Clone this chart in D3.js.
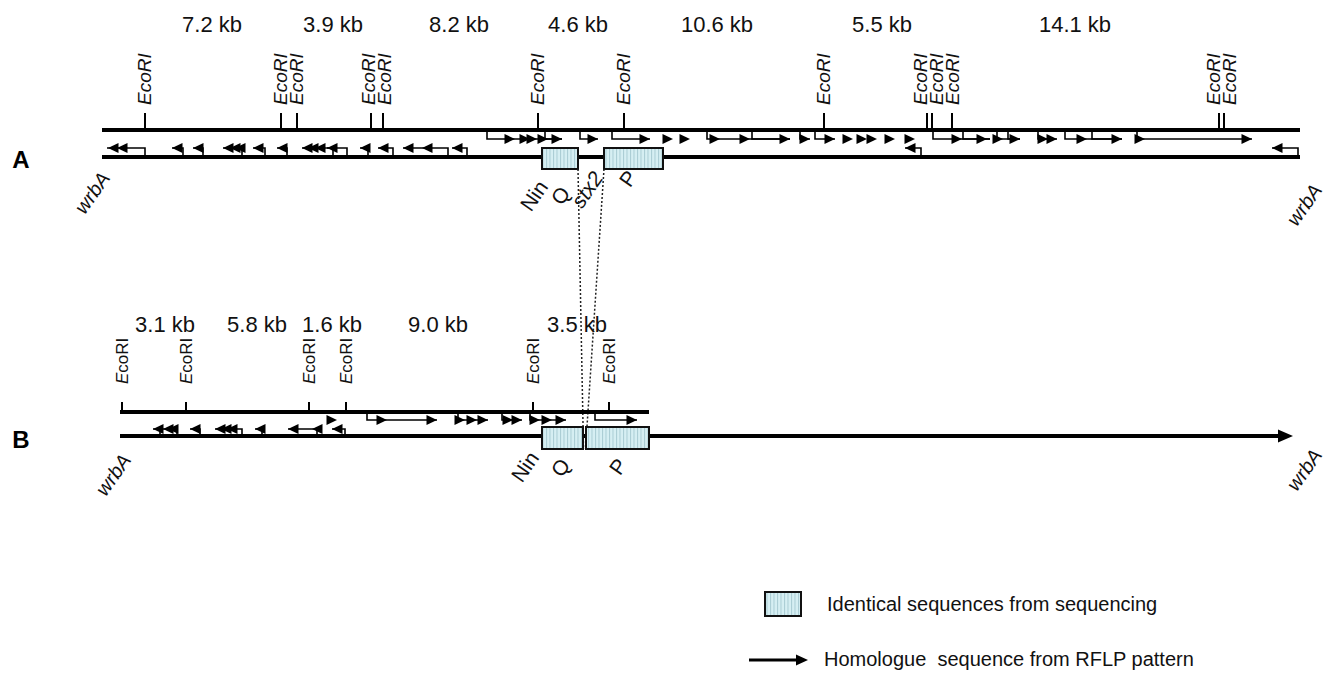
<!DOCTYPE html>
<html>
<head>
<meta charset="utf-8">
<script src="https://cdn.jsdelivr.net/npm/d3@7"></script>
<style>
body { margin: 0; background: #fff; }
svg { font-family: "Liberation Sans", Arial, sans-serif; }
</style>
</head>
<body>
<svg id="chart" width="1331" height="674"></svg>
<script>
// ---- data: every position is in kb along the prophage map ----

// panel A (intact stx2 prophage)
var aStrand = [0, 59.9];
var aSites = [2.15, 8.95, 9.75, 13.45, 14.05, 21.8, 26.1, 36.1, 41.25, 41.5, 42.5, 55.85, 56.1];
var aFragLabels = ["7.2 kb", "3.9 kb", "8.2 kb", "4.6 kb", "10.6 kb", "5.5 kb", "14.1 kb"];
var aFragPos = [5.5, 11.55, 17.85, 23.8, 30.75, 39.0, 48.65];
// bent arrows [start, end]
var aFwd = [[19.25, 23.0], [22.15, 23.0], [23.9, 24.8], [25.5, 27.4], [30.25, 34.4], [32.5, 34.4],
    [34.9, 35.4], [35.65, 36.65], [41.55, 44.4], [43.05, 44.4], [44.75, 45.9], [45.3, 45.9],
    [46.8, 47.75], [48.15, 51.0], [49.5, 51.0], [51.75, 57.5]];
var aFwdHeads = [20.65, 21.4, 21.75, 22.3, 23.0, 24.8, 27.4, 28.55, 29.4, 30.9, 32.4, 34.4, 35.4,
    36.65, 37.55, 38.25, 38.75, 39.65, 40.65, 43.0, 44.25, 45.05, 45.9, 47.3, 47.75, 49.25, 51.0,
    52.15, 57.5];
var aRev = [[2.15, 0.25], [4.05, 3.5], [5.05, 4.55], [7.0, 6.05], [8.15, 7.55], [9.25, 8.75],
    [11.55, 10.0], [12.25, 11.25], [13.3, 12.9], [14.55, 13.8], [17.3, 15.05], [18.25, 17.5],
    [40.95, 40.15], [59.8, 58.5]];
var aRevHeads = [0.3, 0.75, 3.5, 4.55, 6.05, 6.4, 6.65, 7.55, 8.75, 10.0, 10.3, 10.65, 11.25, 12.9,
    13.8, 15.05, 16.0, 17.5, 40.15, 58.5];
var aBoxes = [[22.0, 23.8], [25.1, 28.05]];
var aGeneLabels = ["Nin", "Q", "stx2", "P"];
var aGenePos = [22.35, 23.45, 25.1, 26.8];

// panel B (truncated prophage)
var bTopStrand = [0.9, 27.35];
var bBottomStrand = [0.9, 59.55];
var bSites = [1.0, 4.2, 10.35, 12.2, 21.55, 25.35];
var bFragLabels = ["3.1 kb", "5.8 kb", "1.6 kb", "9.0 kb", "3.5 kb"];
var bFragPos = [3.15, 7.75, 11.5, 16.8, 23.75];
var bFwd = [[13.25, 16.75], [17.8, 19.3], [20.0, 21.0], [21.4, 23.2], [24.65, 26.75]];
var bFwdHeads = [11.75, 14.25, 16.75, 18.15, 18.75, 19.3, 20.55, 21.0, 21.9, 22.5, 23.2, 26.75];
var bRev = [[2.9, 2.55], [3.75, 3.05], [4.9, 4.4], [7.0, 5.65], [8.0, 7.65], [10.75, 9.3], [12.15, 11.5]];
var bRevHeads = [2.55, 3.05, 3.3, 4.4, 5.65, 5.95, 6.25, 7.65, 9.3, 10.5, 11.5];
var bBoxes = [[22.0, 24.05], [24.2, 27.35]];
var bGeneLabels = ["Nin", "Q", "P"];
var bGenePos = [21.9, 23.45, 26.3];

var legendLabels = ["Identical sequences from sequencing", "Homologue  sequence from RFLP pattern"];

// ---- drawing ----
var svg = d3.select("#chart");
var x = d3.scaleLinear().domain([0, 59.9]).range([102, 1300]);

// striped fill of the sequenced boxes
var defs = svg.append("defs");
var pat = defs.append("pattern").attr("id", "stripes")
    .attr("patternUnits", "userSpaceOnUse").attr("width", 3.5).attr("height", 10);
pat.append("rect").attr("width", 3.5).attr("height", 10).attr("fill", "#d6eff3");
pat.append("line").attr("x1", 0.5).attr("x2", 0.5).attr("y1", 0).attr("y2", 10)
    .attr("stroke", "#a9ccd3").attr("stroke-width", 1);

// spread labels of close restriction sites so they do not overlap
function spread(xs, gap) {
    var p = xs.slice();
    for (var it = 0; it < 60; it++) {
        for (var i = 1; i < p.length; i++) {
            var d = p[i] - p[i - 1];
            if (d < gap) {
                p[i - 1] -= (gap - d) / 2;
                p[i] += (gap - d) / 2;
            }
        }
    }
    return p;
}

function headPath(tip, y, dir, len, half) {
    return "M" + tip + "," + y + "L" + (tip - dir * len) + "," + (y - half) +
        "L" + (tip - dir * len) + "," + (y + half) + "Z";
}

var panels = [{
    letter: "A", top: 130, bottom: 157, fwdY: 139, revY: 148, tick: 17, labelY: 105, labelSize: 19,
    fragY: 32, letterY: 168, boxTop: 148, boxH: 21, italicAll: true,
    topStrand: aStrand, bottomStrand: aStrand, arrowEnd: false,
    sites: aSites, fragText: aFragLabels, fragPos: aFragPos,
    fwd: aFwd, fwdHeads: aFwdHeads, rev: aRev, revHeads: aRevHeads,
    boxes: aBoxes, geneText: aGeneLabels, genePos: aGenePos, geneDy: [30, 36, 21, 20],
    wrb: [[111, 178], [1323, 190]]
}, {
    letter: "B", top: 412, bottom: 436, fwdY: 420, revY: 429, tick: 10, labelY: 384, labelSize: 17,
    fragY: 332, letterY: 448, boxTop: 427, boxH: 22, italicAll: false,
    topStrand: bTopStrand, bottomStrand: bBottomStrand, arrowEnd: true,
    sites: bSites, fragText: bFragLabels, fragPos: bFragPos,
    fwd: bFwd, fwdHeads: bFwdHeads, rev: bRev, revHeads: bRevHeads,
    boxes: bBoxes, geneText: bGeneLabels, genePos: bGenePos, geneDy: [22, 29, 29],
    wrb: [[132, 460], [1323, 455]]
}];

panels.forEach(function (p) {
    var g = svg.append("g").attr("class", "panel" + p.letter);

    g.append("text").attr("x", 21).attr("y", p.letterY).attr("text-anchor", "middle")
        .attr("font-size", 24).attr("font-weight", "bold").text(p.letter);

    // fragment sizes
    g.selectAll(".frag").data(p.fragText).enter().append("text")
        .attr("x", function (d, i) { return x(p.fragPos[i]); })
        .attr("y", p.fragY).attr("text-anchor", "middle").attr("font-size", 22)
        .attr("fill", "#111").text(function (d) { return d; });

    // strands
    g.append("line").attr("x1", x(p.topStrand[0])).attr("x2", x(p.topStrand[1]))
        .attr("y1", p.top).attr("y2", p.top).attr("stroke", "#000").attr("stroke-width", 4);
    var endX = x(p.bottomStrand[1]);
    g.append("line").attr("x1", x(p.bottomStrand[0])).attr("x2", p.arrowEnd ? endX - 12 : endX)
        .attr("y1", p.bottom).attr("y2", p.bottom).attr("stroke", "#000").attr("stroke-width", 4);
    if (p.arrowEnd) {
        g.append("path").attr("d", headPath(endX, p.bottom, 1, 15, 6.5)).attr("fill", "#000");
    }

    // EcoRI sites
    g.selectAll(".site").data(p.sites).enter().append("line")
        .attr("x1", function (d) { return x(d); }).attr("x2", function (d) { return x(d); })
        .attr("y1", p.top - p.tick).attr("y2", p.top).attr("stroke", "#000").attr("stroke-width", 2);
    var lx = spread(p.sites.map(function (d) { return x(d) + 6; }), 16);
    var lab = g.selectAll(".siteLabel").data(p.sites).enter().append("text")
        .attr("transform", function (d, i) { return "translate(" + lx[i] + "," + p.labelY + ") rotate(-90)"; })
        .attr("font-size", p.labelSize).attr("fill", "#111");
    if (p.italicAll) {
        lab.attr("font-style", "italic").text("EcoRI");
    } else {
        lab.append("tspan").attr("font-style", "italic").text("E");
        lab.append("tspan").text("coRI");
    }

    // transcripts (bent arrows)
    g.selectAll(".fwd").data(p.fwd).enter().append("path")
        .attr("d", function (d) { return "M" + x(d[0]) + "," + (p.top + 2) + "V" + p.fwdY + "H" + x(d[1]); })
        .attr("fill", "none").attr("stroke", "#000").attr("stroke-width", 1.6);
    g.selectAll(".rev").data(p.rev).enter().append("path")
        .attr("d", function (d) { return "M" + x(d[0]) + "," + (p.bottom - 2) + "V" + p.revY + "H" + x(d[1]); })
        .attr("fill", "none").attr("stroke", "#000").attr("stroke-width", 1.6);
    g.selectAll(".fh").data(p.fwdHeads).enter().append("path")
        .attr("d", function (d) { return headPath(x(d), p.fwdY, 1, 10.5, 5); }).attr("fill", "#000");
    g.selectAll(".rh").data(p.revHeads).enter().append("path")
        .attr("d", function (d) { return headPath(x(d), p.revY, -1, 10.5, 5); }).attr("fill", "#000");

    // sequenced regions
    g.selectAll(".box").data(p.boxes).enter().append("rect")
        .attr("x", function (d) { return x(d[0]); }).attr("y", p.boxTop)
        .attr("width", function (d) { return x(d[1]) - x(d[0]); }).attr("height", p.boxH)
        .attr("fill", "url(#stripes)").attr("stroke", "#111").attr("stroke-width", 2);

    // gene names
    g.selectAll(".gene").data(p.geneText).enter().append("text")
        .attr("transform", function (d, i) {
            return "translate(" + x(p.genePos[i]) + "," + (p.bottom + p.geneDy[i]) + ") rotate(-55)";
        })
        .attr("text-anchor", "end").attr("font-size", 21).attr("fill", "#111")
        .attr("font-style", function (d) { return d === "stx2" ? "italic" : null; })
        .text(function (d) { return d; });

    g.selectAll(".wrb").data(p.wrb).enter().append("text")
        .attr("transform", function (d) { return "translate(" + d[0] + "," + d[1] + ") rotate(-55)"; })
        .attr("text-anchor", "end").attr("font-size", 20).attr("font-style", "italic")
        .attr("fill", "#111").text("wrbA");
});

// dotted links between the sequenced regions of A and B
var pa = panels[0], pb = panels[1];
var links = [[aBoxes[0][1], bBoxes[0][1]], [aBoxes[1][0], bBoxes[1][0]]];
svg.selectAll(".link").data(links).enter().append("line")
    .attr("x1", function (d) { return x(d[0]); }).attr("y1", pa.boxTop + pa.boxH)
    .attr("x2", function (d) { return x(d[1]) + (d[1] === bBoxes[0][1] ? 0.5 : -0.5); })
    .attr("y2", pb.boxTop + pb.boxH)
    .attr("stroke", "#222").attr("stroke-width", 1.5).attr("stroke-dasharray", "2,2");
// keep B boxes above the links
svg.select(".panelB").raise();

// legend
var lg = svg.append("g").attr("class", "legend");
lg.append("rect").attr("x", 765).attr("y", 592).attr("width", 36).attr("height", 24)
    .attr("fill", "url(#stripes)").attr("stroke", "#111").attr("stroke-width", 2);
lg.append("line").attr("x1", 749).attr("x2", 798).attr("y1", 660).attr("y2", 660)
    .attr("stroke", "#000").attr("stroke-width", 3);
lg.append("path").attr("d", headPath(808, 660, 1, 12, 5.5)).attr("fill", "#000");
lg.selectAll(".lt").data(legendLabels).enter().append("text")
    .attr("x", function (d, i) { return i === 0 ? 827 : 824; })
    .attr("y", function (d, i) { return i === 0 ? 611 : 666; })
    .attr("font-size", 20).attr("fill", "#111").style("white-space", "pre")
    .text(function (d) { return d; });
</script>
</body>
</html>
